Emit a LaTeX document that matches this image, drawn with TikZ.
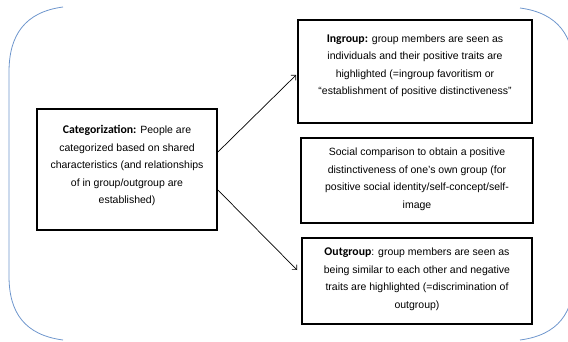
\documentclass[tikz,border=0pt]{standalone}
\usepackage{fontspec}
\setmainfont{Liberation Sans}
\newfontfamily\headfont[Scale=1.12]{Carlito}
\usepackage{tikz}
\usetikzlibrary{arrows.meta}

\definecolor{bracketblue}{RGB}{110,150,205}

\newcommand{\boxhead}[1]{{\headfont\bfseries #1}}

\begin{document}
\begin{tikzpicture}[x=1pt, y=-1pt,
    textbox/.style={draw, line width=1.8pt, align=center,
      font=\fontsize{10.5}{17.5}\selectfont, inner sep=0pt},
    link/.style={-{Straight Barb[length=3.5pt,width=7pt]}, line width=0.7pt}]
  \useasboundingbox (0,0) rectangle (568,342);

  \node (cat) [textbox, minimum width=180pt, minimum height=121pt,
      text depth=10pt] at (127,169.5)
    {\boxhead{Categorization:} People are\\
     categorized based on shared\\
     characteristics (and relationships\\
     of in group/outgroup are\\
     established)};

  \node (in) [textbox, minimum width=234pt, minimum height=103pt,
      text depth=14pt] at (415,71.5)
    {\boxhead{Ingroup:} group members are seen as\\
     individuals and their positive traits are\\
     highlighted (=ingroup favoritism or\\
     “establishment of positive distinctiveness”};

  \node (soc) [textbox, minimum width=232pt, minimum height=85pt,
      text depth=5pt] at (417,180.5)
    {Social comparison to obtain a positive\\
     distinctiveness of one’s own group (for\\
     positive social identity/self-concept/self-\\
     image};

  \node (out) [textbox, minimum width=230pt, minimum height=86pt,
      text depth=6pt] at (417,281)
    {\boxhead{Outgroup}: group members are seen as\\
     being similar to each other and negative\\
     traits are highlighted (=discrimination of\\
     outgroup)};

  \draw[link] ([yshift=17.5pt]cat.east) -- ([xshift=-1pt,yshift=-3.5pt]in.west);
  \draw[link] ([yshift=-20.5pt]cat.east) -- ([xshift=-4pt,yshift=11pt]out.west);

  \begin{scope}
    \clip (0,0) rectangle (568,342);
    \draw[bracketblue, line width=0.8pt]
      (63,7) .. controls (25,12) and (9,35) .. (9,72)
      -- (9,276)
      .. controls (9,313) and (25,335) .. (63,340);
    \draw[bracketblue, line width=0.8pt]
      (520,8) .. controls (558,13) and (574,36) .. (574,72)
      -- (574,276)
      .. controls (574,313) and (558,335) .. (520,340);
  \end{scope}
\end{tikzpicture}
\end{document}
